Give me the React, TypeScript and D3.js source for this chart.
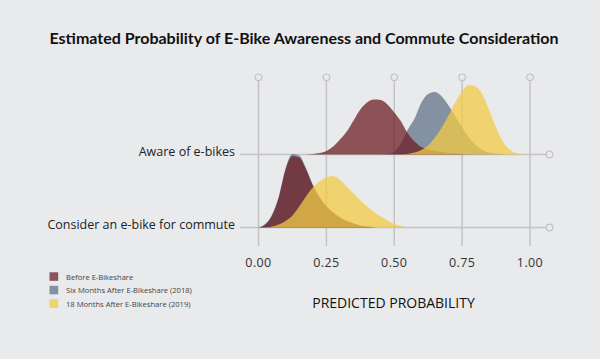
import React from 'react';
import * as d3 from 'd3';

const probGrid = [0, 0.025, 0.05, 0.075, 0.1, 0.125, 0.15, 0.175, 0.2, 0.225, 0.25, 0.275, 0.3, 0.325, 0.35, 0.375, 0.4, 0.425, 0.45, 0.475, 0.5, 0.525, 0.55, 0.575, 0.6, 0.625, 0.65, 0.675, 0.7, 0.725, 0.75, 0.775, 0.8, 0.825, 0.85, 0.875, 0.9, 0.925, 0.95, 0.975, 1];

const rows = ['Aware of e-bikes', 'Consider an e-bike for commute'];
const seriesNames = ['Before E-Bikeshare', 'Six Months After E-Bikeshare (2018)', '18 Months After E-Bikeshare (2019)'];
const tickValues = [0, 0.25, 0.5, 0.75, 1];
const tickLabels = ['0.00', '0.25', '0.50', '0.75', '1.00'];

// relative density heights, sampled on probGrid
const awareBefore = [0, 0, 0, 0, 0, 0, 0, 0, 0.5, 1.5, 3.5, 8, 15, 23, 34, 45, 52, 55, 54.5, 50, 42, 33, 21, 13, 7.5, 5, 3.5, 2.5, 1.6, 1, 0.5, 0.2, 0, 0, 0, 0, 0, 0, 0, 0, 0];
const awareSix = [0, 0, 0, 0, 0, 0, 0, 0, 0, 0, 0, 0, 0, 0, 0, 0, 0, 0, 0, 0.5, 3, 11, 25, 36, 52, 60.5, 62.5, 58, 49, 38, 27, 17, 9.5, 4.5, 2, 0.7, 0.2, 0, 0, 0, 0];
const awareEighteen = [0, 0, 0, 0, 0, 0, 0, 0, 0, 0, 0, 0, 0, 0, 0, 0, 0, 0, 0, 0, 0, 0, 0.5, 2, 4.5, 9, 17, 27, 39, 52, 63, 69.5, 68, 60, 44, 27, 13, 5, 1.2, 0.2, 0];
const considerBefore = [0, 3, 12, 30, 58, 71.5, 70, 58, 42, 30, 21, 15, 10, 6.5, 4, 2, 1, 0.3, 0, 0, 0, 0, 0, 0, 0, 0, 0, 0, 0, 0, 0, 0, 0, 0, 0, 0, 0, 0, 0, 0, 0];
const considerSix = [0, 3.5, 13, 31.5, 59.5, 73.5, 72, 59.5, 43, 30.5, 21.5, 15, 10, 6.5, 4, 2, 1, 0.3, 0, 0, 0, 0, 0, 0, 0, 0, 0, 0, 0, 0, 0, 0, 0, 0, 0, 0, 0, 0, 0, 0, 0];
const considerEighteen = [0, 0, 1, 3, 6.5, 12, 21, 31, 40, 46, 50, 51.5, 47.5, 41, 34, 27, 21, 15.5, 11, 7, 3.5, 1.5, 0.3, 0, 0, 0, 0, 0, 0, 0, 0, 0, 0, 0, 0, 0, 0, 0, 0, 0, 0];

const seriesColors = ['#6c1f25', '#627388', '#f1cb44'];
const FILL_OPACITY = 0.75;
const BG = '#e9eaec';
const GRID = '#c3c3c5';

const densities: number[][][] = [
  [awareBefore, awareSix, awareEighteen],
  [considerBefore, considerSix, considerEighteen],
];
// drawing order: six months, before, 18 months
const drawOrder = [1, 0, 2];

export default function App() {
  const W = 600;
  const H = 359;
  const x = d3.scaleLinear().domain([0, 1]).range([258.5, 530]);
  const rowY = d3.scalePoint<string>().domain(rows).range([154.5, 227.5]);
  const h = d3.scaleLinear().domain([0, 80]).range([0, 80]);

  const gridTop = 77.3;
  const gridBottom = 246;
  const lineLeft = 240;
  const lineRight = 549.5;
  const r = 3.3;

  const areaFor = (base: number) =>
    d3
      .area<number>()
      .x((_, i) => x(probGrid[i]))
      .y0(base)
      .y1((d) => base - h(d))
      .curve(d3.curveMonotoneX);

  return (
    <svg
      width={W}
      height={H}
      style={{ position: 'absolute', left: 0, top: 0, display: 'block' }}
    >
      <rect x={0} y={0} width={W} height={H} fill={BG} />
      <text
        x={W / 2 + 4}
        y={44}
        textAnchor="middle"
        fontFamily="Lato, 'Open Sans', sans-serif"
        fontWeight={700}
        fontSize={16}
        fill="#111"
      >
        Estimated Probability of E-Bike Awareness and Commute Consideration
      </text>

      {/* vertical gridlines */}
      {tickValues.map((t, i) => (
        <g key={'v' + i}>
          <line x1={x(t)} x2={x(t)} y1={gridTop + r} y2={gridBottom} stroke={GRID} strokeWidth={1.5} />
          <circle cx={x(t)} cy={gridTop} r={r} fill={BG} stroke={GRID} strokeWidth={1.2} />
          <text
            x={x(t)}
            y={267}
            textAnchor="middle"
            fontFamily="'Open Sans', sans-serif"
            fontSize={12.5}
            fill="#333"
            letterSpacing={0.4}
          >
            {tickLabels[i]}
          </text>
        </g>
      ))}

      {/* row baselines */}
      {rows.map((row) => {
        const y = rowY(row) as number;
        return (
          <g key={'h' + row}>
            <line x1={lineLeft} x2={lineRight - r} y1={y} y2={y} stroke={GRID} strokeWidth={1.5} />
            <circle cx={lineRight} cy={y} r={r} fill={BG} stroke={GRID} strokeWidth={1.2} />
            <text
              x={235}
              y={y + 1.5}
              textAnchor="end"
              fontFamily="'Open Sans', sans-serif"
              fontSize={12.5}
              fill="#222"
            >
              {row}
            </text>
          </g>
        );
      })}

      {/* densities */}
      {rows.map((row, ri) => {
        const base = rowY(row) as number;
        const gen = areaFor(base);
        return (
          <g key={'d' + row}>
            {drawOrder.map((si) => (
              <path
                key={si}
                d={gen(densities[ri][si]) || ''}
                fill={seriesColors[si]}
                fillOpacity={FILL_OPACITY}
              />
            ))}
          </g>
        );
      })}

      {/* axis title */}
      <text
        x={393.5}
        y={308}
        textAnchor="middle"
        fontFamily="'Open Sans', sans-serif"
        fontSize={14}
        fontWeight={500}
        fill="#111"
      >
        PREDICTED PROBABILITY
      </text>

      {/* legend */}
      {seriesNames.map((name, i) => (
        <g key={'l' + i} transform={`translate(49.5, ${272.3 + i * 13.5})`}>
          <rect x={0} y={0} width={8.7} height={8.5} fill={seriesColors[i]} fillOpacity={FILL_OPACITY} />
          <text x={16.5} y={7.2} fontFamily="'Open Sans', sans-serif" fontSize={7.6} fill="#444">
            {name}
          </text>
        </g>
      ))}
    </svg>
  );
}
